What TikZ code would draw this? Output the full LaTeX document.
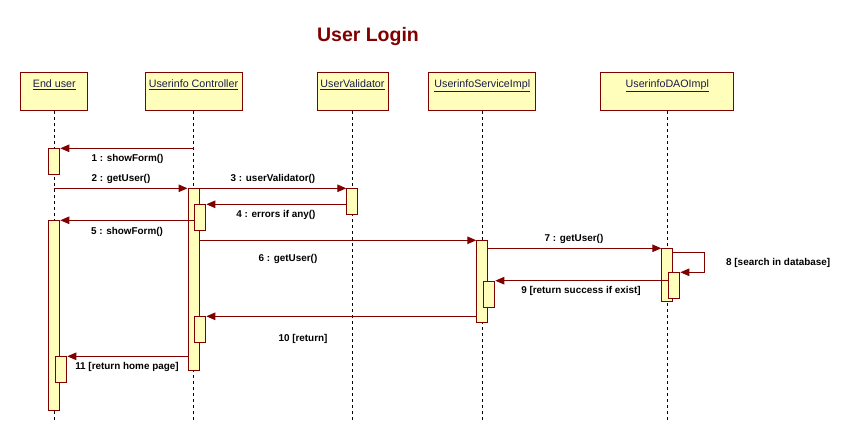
\documentclass[tikz,border=0pt]{standalone}
\usepackage{fontspec}
\setmainfont{Liberation Sans}
\usetikzlibrary{arrows.meta}
\definecolor{umlred}{HTML}{800000}
\definecolor{umlfill}{HTML}{FFFFBB}
\definecolor{hdrtext}{HTML}{1A1A4A}
\tikzset{
  head/.style={draw=umlred, fill=umlfill, line width=1pt, inner sep=0pt},
  headtxt/.style={anchor=base, inner sep=0pt, text=hdrtext, font=\fontsize{10.7}{12}\selectfont},
  actbox/.style={draw=umlred, fill=umlfill, line width=1pt, inner sep=0pt, minimum width=11pt},
  lifeline/.style={draw=black, line width=0.9pt, dash pattern=on 3pt off 3pt},
  msg/.style={draw=umlred, line width=1pt, -{Triangle[length=9pt,width=7.5pt]}},
  msglbl/.style={inner sep=0pt, font=\bfseries\fontsize{9.9}{11}\selectfont}
}
\begin{document}
\begin{tikzpicture}[x=1pt,y=-1pt]
\useasboundingbox (0,0) rectangle (855,446);
\fill[white] (0,0) rectangle (855,446);
% title
\node[anchor=base, inner sep=0pt, text=umlred, font=\bfseries\fontsize{19.5}{22}\selectfont] (title) at (368,42) {User Login};
% headers
\node[head, minimum width=67pt, minimum height=38pt] (eu) at (54.3,91.7) {};
\node[head, minimum width=97pt, minimum height=38pt] (c) at (193.5,91.7) {};
\node[head, minimum width=71pt, minimum height=38pt] (v) at (352.5,91.7) {};
\node[head, minimum width=107pt, minimum height=38pt] (s) at (482.3,91.7) {};
\node[head, minimum width=133pt, minimum height=38pt] (d) at (667.3,91.7) {};
\path (eu.north) ++(0,15) node[headtxt] (eut) {\underline{End user}};
\path (c.north) ++(0,15) node[headtxt] (ct) {\underline{Userinfo Controller}};
\path (v.north) ++(0,15) node[headtxt] (vt) {\underline{UserValidator}};
\path (s.north) ++(0,15) node[headtxt] (st) {\underline{UserinfoServiceImpl}};
\path (d.north) ++(0,15) node[headtxt] (dt) {\underline{UserinfoDAOImpl}};
% lifeline ends
\coordinate (eue) at (54.3,421);
\coordinate (ce) at (193.5,421);
\coordinate (ve) at (352.5,423);
\coordinate (se) at (482.3,421);
\coordinate (de) at (667.3,421);
\draw[lifeline] (eu.south) -- (eue);
\draw[lifeline] (c.south) -- (ce);
\draw[lifeline] (v.south) -- (ve);
\draw[lifeline] (s.south) -- (se);
\draw[lifeline] (d.south) -- (de);
% activations
\node[actbox, minimum height=26pt, anchor=north] (eu1) at (54.3,148.3) {};
\node[actbox, minimum height=190pt, anchor=north] (eu2) at (54.3,220.3) {};
\node[actbox, minimum height=26pt, anchor=north] (eu3) at (61.3,356.3) {};
\node[actbox, minimum height=182pt, anchor=north] (c1) at (193.5,188.3) {};
\node[actbox, minimum height=26pt, anchor=north] (c2) at (200.3,204.3) {};
\node[actbox, minimum height=26pt, anchor=north] (c3) at (200.3,316.3) {};
\node[actbox, minimum height=26pt, anchor=north] (v1) at (352.3,188.3) {};
\node[actbox, minimum height=82pt, anchor=north] (s1) at (482.3,240.3) {};
\node[actbox, minimum height=26pt, anchor=north] (s2) at (489.3,280.7) {};
\node[actbox, minimum height=53pt, anchor=north] (d1) at (667.3,248.3) {};
\node[actbox, minimum height=26pt, anchor=north] (d2) at (674.3,272.3) {};
% messages
\draw[msg] (c |- eu1.north) -- (eu1.north east);
\draw[msg] (eu |- c1.north) -- (c1.north west);
\draw[msg] (c1.north east) -- (v1.north west);
\draw[msg] (v1.west |- c2.north) -- (c2.north east);
\draw[msg] (c2.west |- eu2.north) -- (eu2.north east);
\draw[msg] (c1.east |- s1.north) -- (s1.north west);
\draw[msg] (s1.east |- d1.north) -- (d1.north west);
\draw[msg] ([yshift=-4pt]d1.north east) -- ++(31,0) |- (d2.north east);
\draw[msg] (d2.west |- s2.north) -- (s2.north east);
\draw[msg] (s1.west |- c3.north) -- (c3.north east);
\draw[msg] (c1.west |- eu3.north) -- (eu3.north east);
% labels
\node[msglbl] (l1) at (127.5,159) {1 : showForm()};
\node[msglbl] (l2) at (121,179.3) {2 : getUser()};
\node[msglbl] (l3) at (273,179.3) {3 : userValidator()};
\node[msglbl] (l4) at (276,215) {4 : errors if any()};
\node[msglbl] (l5) at (127,231.5) {5 : showForm()};
\node[msglbl] (l6) at (288,259.3) {6 : getUser()};
\node[msglbl] (l7) at (574,239.3) {7 : getUser()};
\node[msglbl, anchor=west] (l8) at (726,263.3) {8 [search in database]};
\node[msglbl] (l9) at (581,291.3) {9 [return success if exist]};
\node[msglbl] (l10) at (303,339) {10 [return]};
\node[msglbl] (l11) at (127,366.7) {11 [return home page]};
\end{tikzpicture}
\end{document}
